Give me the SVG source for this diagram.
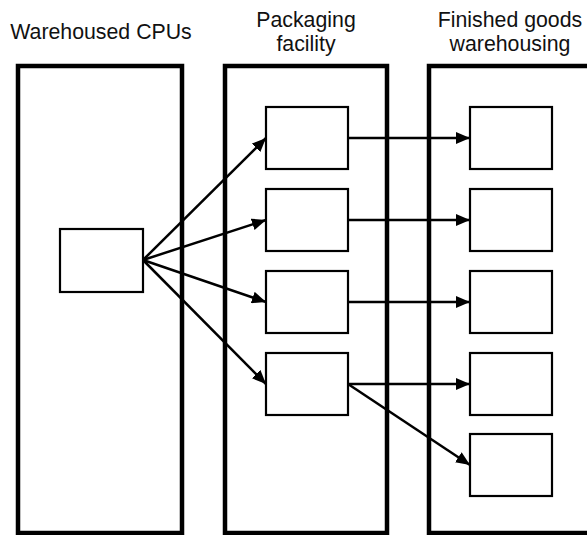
<svg xmlns="http://www.w3.org/2000/svg" width="587" height="535" viewBox="0 0 587 535">
<defs>
<style>
.container{fill:none;stroke:#000;stroke-width:4.5}
.box{fill:#fff;stroke:#000;stroke-width:2.2}
.edge{fill:none;stroke:#000;stroke-width:2.5;marker-end:url(#arrow)}
.label{font-family:"Liberation Sans",Arial,sans-serif;font-size:21.3px;fill:#111;text-anchor:middle}
</style>
<marker id="arrow" viewBox="0 0 14 12" refX="14" refY="6" markerWidth="14" markerHeight="12" markerUnits="userSpaceOnUse" orient="auto">
<path d="M0,0 L14,6 L0,12 Z" fill="#000"/>
</marker>
</defs>
<rect width="587" height="535" fill="#fff"/>
<g id="warehoused-cpus">
<rect class="container" x="18" y="66" width="164" height="467"/>
<text class="label" x="101" y="39">Warehoused CPUs</text>
</g>
<g id="packaging-facility">
<rect class="container" x="225" y="66" width="162" height="467"/>
<text class="label" x="306" y="27">Packaging</text>
<text class="label" x="306" y="51">facility</text>
</g>
<g id="finished-goods">
<rect class="container" x="429" y="66" width="200" height="467"/>
<text class="label" x="510" y="27">Finished goods</text>
<text class="label" x="510" y="51">warehousing</text>
</g>
<g id="cpu"><rect class="box" x="60" y="229" width="83" height="63"/></g>
<g id="p1"><rect class="box" x="266" y="107" width="82" height="62"/></g>
<g id="p2"><rect class="box" x="266" y="189" width="82" height="62"/></g>
<g id="p3"><rect class="box" x="266" y="271" width="82" height="62"/></g>
<g id="p4"><rect class="box" x="266" y="353" width="82" height="62"/></g>
<g id="w1"><rect class="box" x="470" y="107" width="82" height="62"/></g>
<g id="w2"><rect class="box" x="470" y="189" width="82" height="62"/></g>
<g id="w3"><rect class="box" x="470" y="271" width="82" height="62"/></g>
<g id="w4"><rect class="box" x="470" y="353" width="82" height="62"/></g>
<g id="w5"><rect class="box" x="470" y="434" width="82" height="62"/></g>
<g id="connectors">
<line class="edge" x1="143" y1="260" x2="266" y2="138"/>
<line class="edge" x1="143" y1="260" x2="266" y2="220"/>
<line class="edge" x1="143" y1="260" x2="266" y2="302"/>
<line class="edge" x1="143" y1="260" x2="266" y2="384"/>
<line class="edge" x1="348" y1="138" x2="470" y2="138"/>
<line class="edge" x1="348" y1="220" x2="470" y2="220"/>
<line class="edge" x1="348" y1="302" x2="470" y2="302"/>
<line class="edge" x1="348" y1="384" x2="470" y2="384"/>
<line class="edge" x1="348" y1="384" x2="470" y2="465"/>
</g>
</svg>
